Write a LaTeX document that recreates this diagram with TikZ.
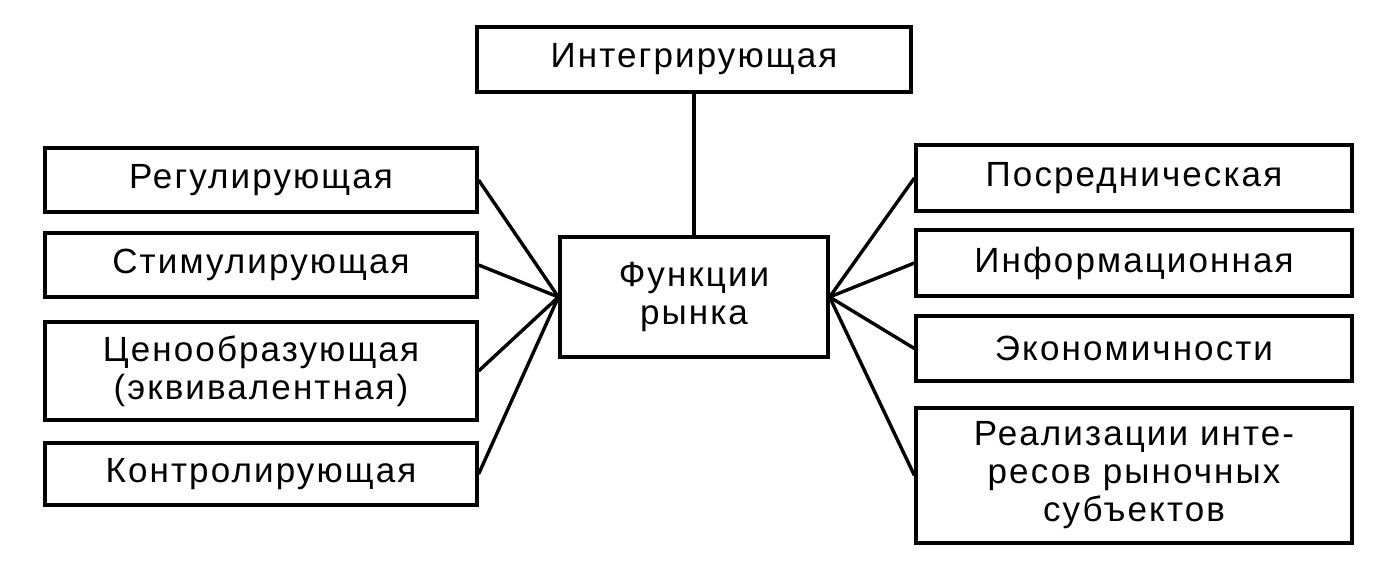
\documentclass[tikz,border=0pt]{standalone}
\usepackage{fontspec}
\setmainfont{Liberation Sans}[LetterSpace=6]
\begin{document}
\begin{tikzpicture}[x=1pt,y=-1pt,
  box/.style={draw=black, line width=3.2pt, fill=white, align=center, inner sep=0pt,
    font=\fontsize{35}{38}\selectfont},
  link/.style={draw=black, line width=3.4pt}]
\useasboundingbox (0,0) rectangle (1384,585);
\node[box, minimum width=434pt, minimum height=65pt] (top) at (694,59.5) {Интегрирующая};
\node[box, minimum width=268pt, minimum height=120pt] (c) at (694,297) {Функции\\рынка};
\node[box, minimum width=432pt, minimum height=64pt] (l1) at (261,180) {Регулирующая};
\node[box, minimum width=432pt, minimum height=64pt] (l2) at (261,265) {Стимулирующая};
\node[box, minimum width=432pt, minimum height=98pt] (l3) at (261,371) {Ценообразующая\\(эквивалентная)};
\node[box, minimum width=432pt, minimum height=62pt] (l4) at (261,474) {Контролирующая};
\node[box, minimum width=436pt, minimum height=66pt] (r1) at (1134,178) {Посредническая};
\node[box, minimum width=436pt, minimum height=66pt] (r2) at (1134,263) {Информационная};
\node[box, minimum width=436pt, minimum height=65pt] (r3) at (1134,348.5) {Экономичности};
\node[box, minimum width=436pt, minimum height=135pt] (r4) at (1134,475.5) {Реализации инте-\\ресов рыночных\\субъектов};
\draw[link] (top.south) -- (c.north);
\foreach \n in {l1,l2,l3,l4} \draw[link] (\n.east) -- (c.west);
\foreach \n in {r1,r2,r3,r4} \draw[link] (\n.west) -- (c.east);
\end{tikzpicture}
\end{document}
